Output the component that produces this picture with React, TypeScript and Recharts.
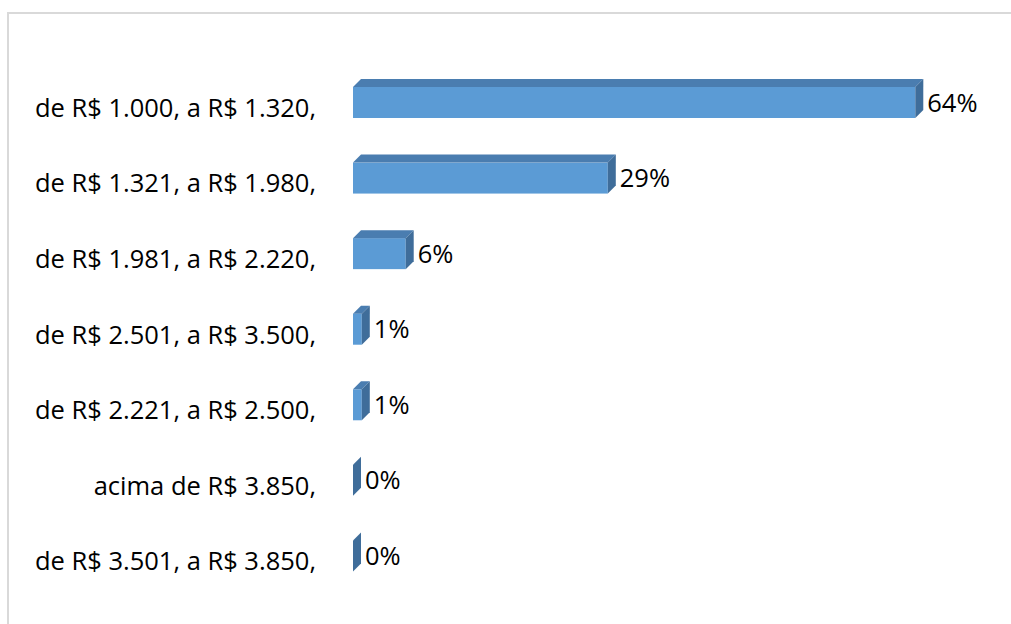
import { Bar, BarChart, LabelList, XAxis, YAxis } from "recharts";

const faixas = [
  "de R$ 1.000, a R$ 1.320,",
  "de R$ 1.321, a R$ 1.980,",
  "de R$ 1.981, a R$ 2.220,",
  "de R$ 2.501, a R$ 3.500,",
  "de R$ 2.221, a R$ 2.500,",
  "acima de R$ 3.850,",
  "de R$ 3.501, a R$ 3.850,",
];
const percentuais = [64, 29, 6, 1, 1, 0, 0];

const data = faixas.map((faixa, i) => ({ faixa, valor: percentuais[i] }));

const font = "'Open Sans', sans-serif";
const depth = 8;
const front = "#5b9bd5";
const top = "#4a7db0";
const side = "#3f6d9a";

function Bar3D(props: any) {
  const { x, y, width, height } = props;
  const w = Math.max(0, width || 0);
  const by = y - 5;
  return (
    <g>
      {w > 0 && <rect x={x} y={by} width={w} height={height} fill={front} />}
      <polygon
        points={`${x},${by} ${x + depth},${by - depth} ${x + w + depth},${by - depth} ${x + w},${by}`}
        fill={top}
      />
      <polygon
        points={`${x + w},${by} ${x + w + depth},${by - depth} ${x + w + depth},${by + height - depth} ${x + w},${by + height}`}
        fill={side}
      />
    </g>
  );
}

function CategoryTick(props: any) {
  const { x, y, payload } = props;
  return (
    <text x={x} y={y + 9} textAnchor="end" fontFamily={font} fontSize={25.5} fill="#000">
      {payload.value}
    </text>
  );
}

function ValueLabel(props: any) {
  const { x, y, width, height, value } = props;
  return (
    <text x={x + Math.max(0, width) + depth + 4} y={y - 5 + height / 2 + 9} fontFamily={font} fontSize={25.5} fill="#000">
      {value}%
    </text>
  );
}

export default function App() {
  return (
    <div style={{ position: "absolute", left: 0, top: 0, width: 1011, height: 624, overflow: "hidden", background: "#fff" }}>
      <div style={{ position: "absolute", left: 7, top: 12, width: 1004, height: 2, background: "#d9d9d9" }} />
      <div style={{ position: "absolute", left: 7, top: 12, width: 2, height: 612, background: "#d9d9d9" }} />
      <div style={{ position: "absolute", left: 0, top: 0 }}>
        <BarChart
          width={1011}
          height={624}
          data={data}
          layout="vertical"
          margin={{ top: 70, right: 43, bottom: 25, left: 0 }}
          barCategoryGap={0}
        >
          <XAxis type="number" domain={[0, 70]} hide />
          <YAxis
            type="category"
            dataKey="faixa"
            width={353}
            axisLine={false}
            tickLine={false}
            tickSize={0}
            tickMargin={37}
            tick={<CategoryTick />}
          />
          <Bar dataKey="valor" barSize={31} shape={<Bar3D />} isAnimationActive={false}>
            <LabelList dataKey="valor" content={<ValueLabel />} />
          </Bar>
        </BarChart>
      </div>
    </div>
  );
}
